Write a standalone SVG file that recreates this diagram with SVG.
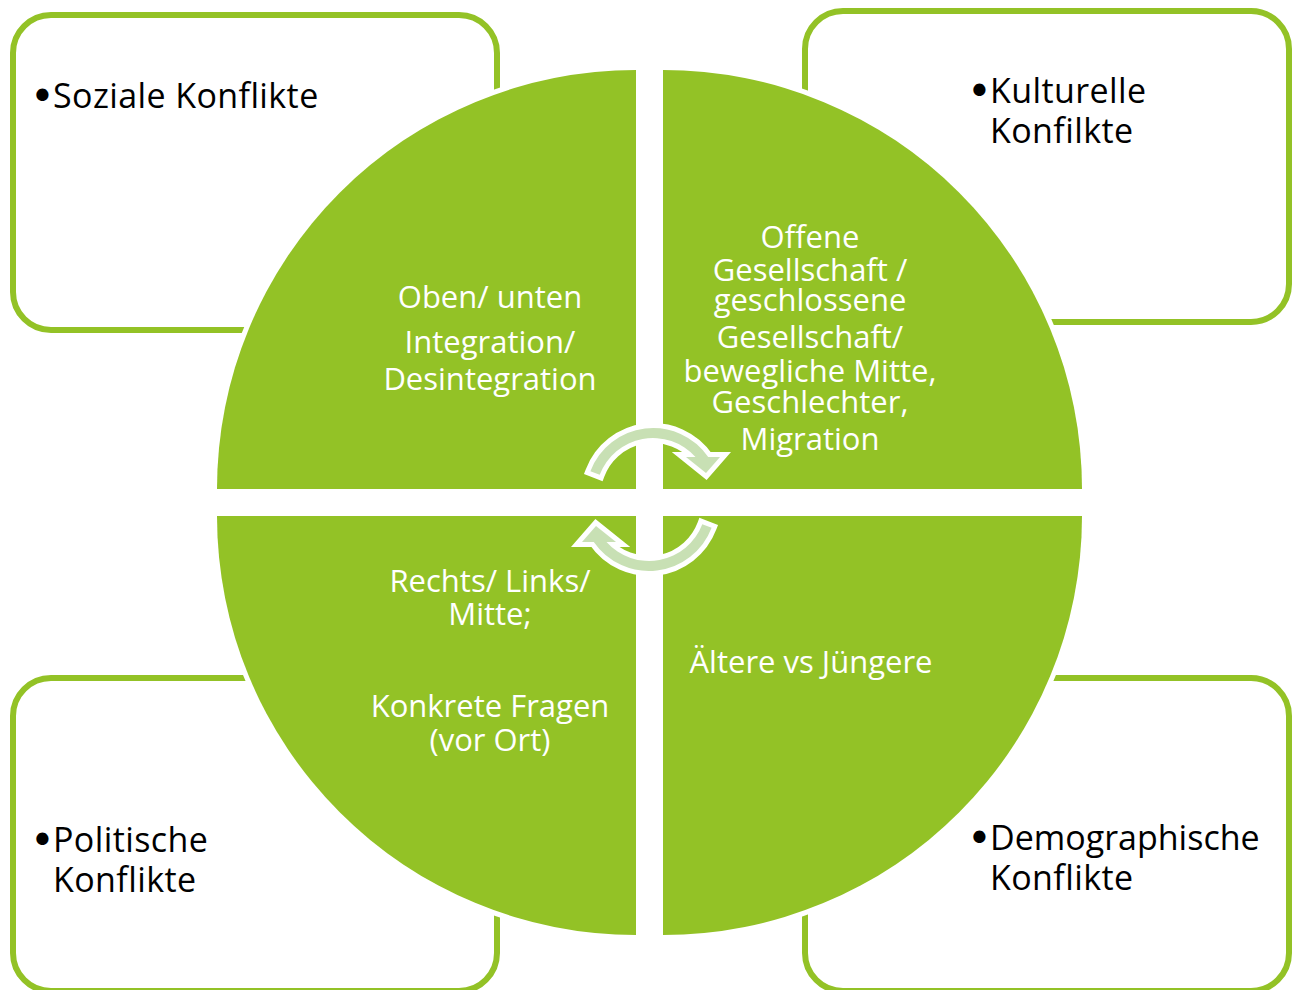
<svg xmlns="http://www.w3.org/2000/svg" xmlns:xlink="http://www.w3.org/1999/xlink" width="1292" height="990" viewBox="0 0 1292 990">
  <style>
    .box { fill: #ffffff; stroke: #93C226; stroke-width: 6; }
    .quad { fill: #93C226; stroke: #ffffff; stroke-width: 10; paint-order: stroke; }
    .lbl { font-family: "Open Sans", "DejaVu Sans", sans-serif; font-size: 34px; letter-spacing: 0.4px; fill: #000000; }
    .dot { font-family: "DejaVu Sans", sans-serif; font-size: 42px; }
    .qtxt { font-family: "Open Sans", "DejaVu Sans", sans-serif; font-size: 31px; fill: #ffffff; text-anchor: middle; }
    .cyc { fill: #C8E0B4; stroke: #ffffff; stroke-width: 10; stroke-linejoin: miter; paint-order: stroke; }
  </style>
  <defs>
    <!-- curved arrow: band between r=57 and r=67 around (653,495), head pointing down-right -->
    <path id="cycArrow" d="M590.4,471.2 A67,67 0 0 1 708.2,457 L720,457 L706,473 L686,457 L695.5,457 A57,57 0 0 0 599.7,474.8 Z"/>
  </defs>
  <rect width="1292" height="990" fill="#ffffff"/>

  <!-- outer category boxes -->
  <g id="box-sozial">
    <rect class="box" x="13" y="15" width="484" height="315" rx="38"/>
    <text class="lbl" x="30" y="108"><tspan class="dot" dy="3">•</tspan><tspan x="53" dy="-3">Soziale Konflikte</tspan></text>
  </g>
  <g id="box-kulturell">
    <rect class="box" x="805" y="11" width="484" height="311" rx="38"/>
    <text class="lbl" x="967" y="103"><tspan class="dot" dy="3">•</tspan><tspan x="990" dy="-3">Kulturelle</tspan></text>
    <text class="lbl" x="990" y="143">Konfilkte</text>
  </g>
  <g id="box-politisch">
    <rect class="box" x="13" y="678" width="484" height="313" rx="38"/>
    <text class="lbl" x="30" y="852"><tspan class="dot" dy="3">•</tspan><tspan x="53" dy="-3">Politische</tspan></text>
    <text class="lbl" x="53" y="892">Konflikte</text>
  </g>
  <g id="box-demographisch">
    <rect class="box" x="805" y="678" width="484" height="313" rx="38"/>
    <text class="lbl" x="967" y="850"><tspan class="dot" dy="3">•</tspan><tspan x="990" dy="-3" letter-spacing="0">Demographische</tspan></text>
    <text class="lbl" x="990" y="890">Konflikte</text>
  </g>

  <!-- quarter circles of the central disc -->
  <g id="quad-tl">
    <path class="quad" d="M636,489 L217,489 A419,419 0 0 1 636,70 Z"/>
    <text class="qtxt" x="490" y="308">Oben/ unten</text>
    <text class="qtxt" x="490" y="353">Integration/</text>
    <text class="qtxt" x="490" y="390">Desintegration</text>
  </g>
  <g id="quad-tr">
    <path class="quad" d="M663,489 L663,70 A419,419 0 0 1 1082,489 Z"/>
    <text class="qtxt" x="810" y="248">Offene</text>
    <text class="qtxt" x="810" y="281">Gesellschaft /</text>
    <text class="qtxt" x="810" y="311">geschlossene</text>
    <text class="qtxt" x="810" y="348">Gesellschaft/</text>
    <text class="qtxt" x="810" y="382">bewegliche Mitte,</text>
    <text class="qtxt" x="810" y="413">Geschlechter,</text>
    <text class="qtxt" x="810" y="450">Migration</text>
  </g>
  <g id="quad-bl">
    <path class="quad" d="M636,516 L636,935 A419,419 0 0 1 217,516 Z"/>
    <text class="qtxt" x="490" y="592">Rechts/ Links/</text>
    <text class="qtxt" x="490" y="625">Mitte;</text>
    <text class="qtxt" x="490" y="717">Konkrete Fragen</text>
    <text class="qtxt" x="490" y="751">(vor Ort)</text>
  </g>
  <g id="quad-br">
    <path class="quad" d="M663,516 L1082,516 A419,419 0 0 1 663,935 Z"/>
    <text class="qtxt" x="811" y="673">Ältere vs Jüngere</text>
  </g>

  <!-- connectors: the two circular arrows in the centre -->
  <g id="connectors">
    <use xlink:href="#cycArrow" class="cyc"/>
    <use xlink:href="#cycArrow" class="cyc" transform="rotate(180 651 499.5)"/>
  </g>
</svg>
